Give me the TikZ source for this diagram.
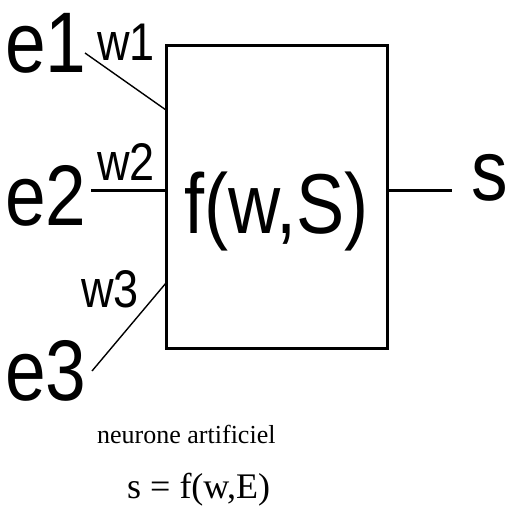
\documentclass[tikz,border=0pt]{standalone}
\usepackage{fontspec}
\usepackage{graphicx}
\setmainfont{Liberation Sans}
\newfontfamily\capfont{Liberation Serif}
\newcommand{\narrow}[1]{\scalebox{.85}[1]{#1}}
\usetikzlibrary{positioning}

\begin{document}
\begin{tikzpicture}[x=1pt, y=-1pt,
    big/.style={inner sep=0, anchor=base west, font=\fontsize{86}{86}\selectfont},
    weight/.style={inner sep=0, anchor=base west, font=\fontsize{53}{53}\selectfont},
    caption/.style={inner sep=0, anchor=base west, font=\capfont\fontsize{26}{26}\selectfont},
    thin wire/.style={line width=1.4pt},
    wire/.style={line width=3pt}]
  \useasboundingbox (0,0) rectangle (507,509);
  % the neuron block
  \node[draw, line width=3pt, minimum width=221pt, minimum height=303pt, inner sep=0] (neuron) at (276.5,196.5) {};
  \node[inner sep=0, anchor=base, font=\fontsize{85}{85}\selectfont] (fws) at (276.5,233) {\narrow{f(w,S)}};
  % inputs, weights and output
  \node[big] (e1) at (5,72)  {\narrow{e1}};
  \node[big] (e2) at (5,225) {\narrow{e2}};
  \node[big] (e3) at (5,400) {\narrow{e3}};
  \node[weight] (w1) at (97,60)  {\narrow{w1}};
  \node[weight] (w2) at (97,180) {\narrow{w2}};
  \node[weight] (w3) at (81,307) {\narrow{w3}};
  \node[big] (s) at (471,200) {\narrow{s}};
  \coordinate (e1end) at (85,53);
  \coordinate (e2end) at (91,190);
  \coordinate (e3end) at (92,371);
  \coordinate (in1) at (166,110);
  \coordinate (in2) at (166,190);
  \coordinate (in3) at (166,283);
  \coordinate (out) at (387,190);
  \coordinate (send) at (452,190);
  \draw[thin wire] (e1end) -- (in1);
  \draw[wire] (e2end) -- (in2);
  \draw[thin wire] (e3end) -- (in3);
  \draw[wire] (out) -- (send);
  % caption
  \node[caption] (cap) at (97,443) {neurone artificiel};
  \node[inner sep=0, anchor=base west, font=\capfont\fontsize{36}{36}\selectfont] (eq) at (127,498) {s = f(w,E)};
\end{tikzpicture}
\end{document}
